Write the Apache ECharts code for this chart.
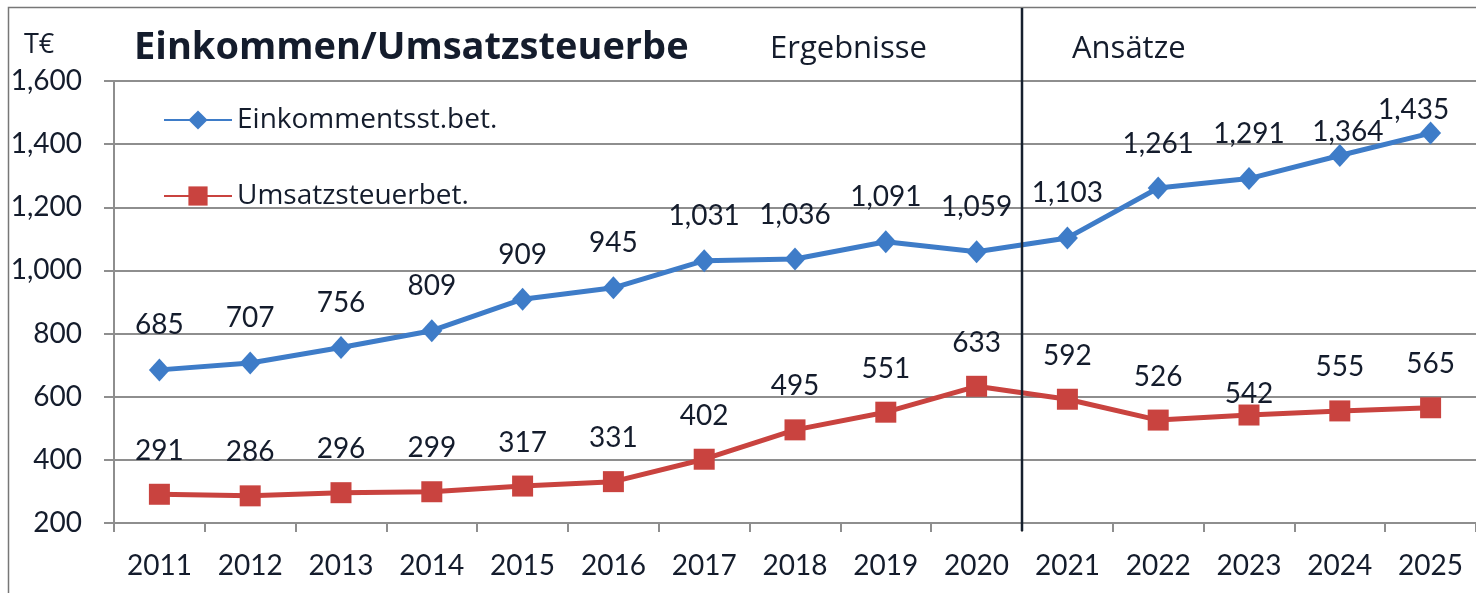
<!DOCTYPE html>
<html>
<head>
<meta charset="utf-8">
<script src="https://cdn.jsdelivr.net/npm/echarts@6/dist/echarts.min.js"></script>
<style>
html,body{margin:0;padding:0;background:#fff;}
#c{width:1476px;height:593px;}
</style>
</head>
<body>
<div id="c"></div>
<script>
// ---- data ----
const years = ['2011','2012','2013','2014','2015','2016','2017','2018','2019','2020','2021','2022','2023','2024','2025'];
const einkommen = [685,707,756,809,909,945,1031,1036,1091,1059,1103,1261,1291,1364,1435];
const umsatz = [291,286,296,299,317,331,402,495,551,633,592,526,542,555,565];
const seriesNames = ['Einkommentsst.bet.','Umsatzsteuerbet.'];
const yTicks = {min:200, max:1600, interval:200};
const titleText = 'Einkommen/Umsatzsteuerbe';
const unitText = 'T€';
const periodLabels = ['Ergebnisse','Ansätze'];

// ---- styling ----
const FONT = 'Lato';
const WFONT = 'Open Sans';
const TXT = '#141c2c';
const BLUE = '#3e7cc8';
const RED = '#c9433f';
const GRID = '#8e8e8e';

const chart = echarts.init(document.getElementById('c'));

function fmt(v){ return v.toLocaleString('en-US'); }

// small label nudges for overlapping labels (visual only)
const nudgeBlue = {13: {distance: -2, offset: [8, 0]}, 14: {distance: -2, offset: [-17, 0]}};
const nudgeRed = {12: {distance: -3}};

function build(values, nudge){
  return values.map((v,i)=>{
    const item = {value: v};
    if (nudge[i]) item.label = nudge[i];
    return item;
  });
}

const labelBase = {
  show: true, position: 'top', distance: 19,
  color: TXT, fontFamily: FONT, fontSize: 28,
  formatter: p => fmt(p.value)
};

chart.setOption({
  animation: false,
  backgroundColor: '#fff',
  grid: {left: 114, top: 81, bottom: 70, right: -3},
  legend: {
    orient: 'vertical', left: 158, top: 101, itemGap: 48,
    itemWidth: 68, itemHeight: 24,
    textStyle: {color: TXT, fontFamily: WFONT, fontSize: 28},
    data: seriesNames
  },
  xAxis: {
    type: 'category', data: years, boundaryGap: true,
    axisLine: {lineStyle: {color: GRID, width: 2}},
    axisTick: {show: true, length: 9, lineStyle: {color: GRID, width: 2}},
    axisLabel: {color: TXT, fontFamily: FONT, fontSize: 28, margin: 29},
    splitLine: {show: false}
  },
  yAxis: {
    type: 'value', min: yTicks.min, max: yTicks.max, interval: yTicks.interval,
    axisLine: {show: true, lineStyle: {color: GRID, width: 2}},
    axisTick: {show: true, length: 10, lineStyle: {color: GRID, width: 2}},
    axisLabel: {color: TXT, fontFamily: FONT, fontSize: 28, margin: 32, formatter: v => fmt(v)},
    splitLine: {lineStyle: {color: GRID, width: 2}}
  },
  series: [
    {
      name: seriesNames[0], type: 'line', data: build(einkommen, nudgeBlue),
      symbol: 'diamond', symbolSize: [21, 23],
      lineStyle: {color: BLUE, width: 5}, itemStyle: {color: BLUE},
      label: labelBase
    },
    {
      name: seriesNames[1], type: 'line', data: build(umsatz, nudgeRed),
      symbol: 'rect', symbolSize: 21,
      lineStyle: {color: RED, width: 5}, itemStyle: {color: RED},
      label: labelBase
    }
  ]
});

// divider between 2020 and 2021 from axis scale
const x20 = chart.convertToPixel({xAxisIndex: 0}, '2020');
const x21 = chart.convertToPixel({xAxisIndex: 0}, '2021');
const xDiv = Math.round((x20 + x21) / 2);

chart.setOption({
  graphic: [
    {type: 'rect', shape: {x: 8.5, y: 7.5, width: 1600, height: 700}, style: {fill: 'none', stroke: '#777', lineWidth: 1.5}, silent: true},
    {type: 'line', shape: {x1: xDiv, y1: 8, x2: xDiv, y2: 531}, style: {stroke: '#16202e', lineWidth: 2.5}, z: 10},
    {type: 'text', left: 24, top: 32, style: {text: unitText, fill: TXT, font: '27px "Open Sans"'}},
    {type: 'text', left: 134, top: 29, style: {text: titleText, fill: TXT, font: 'bold 38px "Open Sans"'}},
    {type: 'text', left: 770, top: 34, style: {text: periodLabels[0], fill: TXT, font: '31px "Open Sans"'}},
    {type: 'text', left: 1072, top: 34, style: {text: periodLabels[1], fill: TXT, font: '31px "Open Sans"'}}
  ]
});
</script>
</body>
</html>
